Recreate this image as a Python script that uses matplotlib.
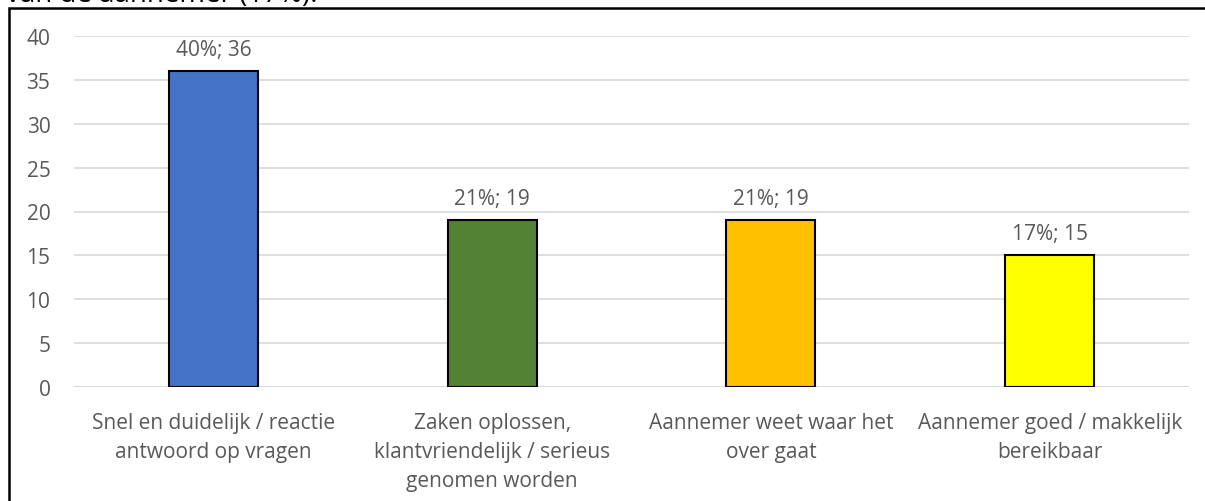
import matplotlib.pyplot as plt
from matplotlib.patches import Rectangle

categories = [
    "Snel en duidelijk / reactie\nantwoord op vragen",
    "Zaken oplossen,\nklantvriendelijk / serieus\ngenomen worden",
    "Aannemer weet waar het\nover gaat",
    "Aannemer goed / makkelijk\nbereikbaar",
]
counts = [36, 19, 19, 15]
percents = [40, 21, 21, 17]
colors = ["#4472C4", "#548235", "#FFC000", "#FFFF00"]

plt.rcParams['font.family'] = ['Open Sans', 'DejaVu Sans']
text_color = "#595959"
fs = 15

fig = plt.figure(figsize=(12.05, 5.02), dpi=100)
ax = fig.add_axes([74 / 1205, 1 - 388 / 502, (1189 - 74) / 1205, (388 - 37) / 502])

x = list(range(len(categories)))
bars = ax.bar(x, counts, width=0.32, color=colors, edgecolor="black", linewidth=1.5, zorder=3)
for b, c, p in zip(bars, counts, percents):
    ax.annotate(f"{p}%; {c}", (b.get_x() + b.get_width() / 2, c),
                xytext=(0, 8), textcoords="offset points",
                ha="center", va="bottom", fontsize=fs, color=text_color)

ax.set_xlim(-0.5, len(categories) - 0.5)
ax.set_ylim(0, 40)
ax.set_yticks(range(0, 41, 5))
ax.set_xticks(x)
ax.set_xticklabels(categories, fontsize=fs, color=text_color, linespacing=1.5)
ax.tick_params(axis="y", labelsize=fs, labelcolor=text_color, length=0, pad=17)
ax.tick_params(axis="x", length=0, pad=18)
ax.grid(axis="y", color="#D9D9D9", linewidth=1.2, zorder=0)
for s in ax.spines.values():
    s.set_visible(False)
ax.axhline(0, color="#D9D9D9", linewidth=1.2, zorder=2)

# outer chart frame, only the left and top edges fall inside the canvas
fig.patches.append(Rectangle((9 / 1205, -0.1), 1.2, 1 - 9 / 502 + 0.1,
                             transform=fig.transFigure, fill=False,
                             edgecolor="black", linewidth=1.8))

# tail of the sentence above the chart
fig.text(6 / 1205, 1 - 2 / 502, "van de aannemer (17%).", fontsize=20,
         color="black", ha="left", va="baseline")

fig.savefig("out.png", dpi=100)
